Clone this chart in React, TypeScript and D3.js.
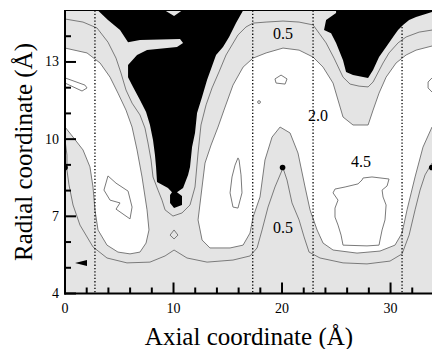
import React from "react";
import * as d3 from "d3";

// axis ticks (Å)
const xMajor = [0, 10, 20, 30];
const xMinor = [2, 4, 6, 8, 12, 14, 16, 18, 22, 24, 26, 28, 32];
const yMajor = [4, 7, 10, 13];
const yMinor = [5, 6, 8, 9, 11, 12, 14];

// dotted vertical guides
const guides = [2.76, 17.3, 22.86, 31.06];

// excluded volume (black)
const blackA = [
  [3.04, 15.0], [16.41, 15.0], [15.76, 14.51], [15.12, 13.97], [14.56, 13.58], [13.92, 13.27],
  [13.09, 12.3], [12.63, 11.64], [12.17, 11.02], [11.98, 10.24], [11.71, 9.69], [11.52, 8.92],
  [11.34, 8.61], [10.88, 8.1], [10.32, 7.94], [10.78, 7.79], [10.78, 7.44], [10.05, 7.32],
  [9.68, 7.52], [9.68, 7.83], [9.86, 7.94], [9.49, 8.1], [8.48, 8.33], [8.39, 8.92],
  [8.29, 9.38], [8.11, 9.97], [7.83, 10.55], [7.47, 11.05], [6.91, 11.52], [6.27, 12.03],
  [5.81, 12.41], [5.81, 12.88], [6.64, 13.27], [7.56, 13.46], [10.32, 13.58], [10.88, 13.74],
  [10.6, 13.89], [6.91, 13.85], [5.81, 13.77], [5.07, 14.24], [3.96, 14.63],
];
const notchA = [[9.22, 15.0], [10.78, 15.0], [10.05, 14.79]];
const blackB = [
  [24.98, 15.0], [33.82, 15.0], [33.82, 14.94], [32.35, 14.75], [31.71, 14.63], [31.15, 14.44],
  [30.69, 14.24], [30.23, 13.97], [29.59, 13.58], [28.94, 13.19], [28.39, 12.69], [27.93, 12.38],
  [26.54, 12.49], [25.9, 12.61], [25.62, 13.07], [24.98, 13.74], [24.52, 14.12], [23.87, 14.24],
  [24.06, 14.63], [24.98, 14.9],
];

// 2.0 contour (white inside)
const whiteLeft = [
  [0, 13.54], [2.03, 13.35], [3.23, 12.96], [4.15, 12.41], [4.88, 11.79], [5.62, 11.13],
  [6.18, 10.47], [6.64, 9.58], [7.1, 8.53], [7.56, 7.25], [7.74, 6.47], [7.47, 5.96],
  [6.91, 5.61], [5.99, 5.54], [4.88, 5.61], [3.87, 5.88], [3.04, 6.47], [2.76, 7.25],
  [2.58, 8.14], [2.3, 8.92], [1.66, 9.58], [0.74, 10.08], [0, 10.47],
];
const whiteMain = [
  [33.82, 10.47], [32.99, 9.69], [32.26, 8.53], [31.52, 7.25], [31.06, 6.35], [30.41, 5.88],
  [29.03, 5.65], [26.91, 5.57], [24.7, 5.69], [23.78, 5.96], [23.23, 6.47], [22.58, 7.25],
  [22.12, 8.14], [21.47, 9.46], [20.74, 10.24], [19.82, 10.47], [19.08, 10.08], [18.43, 9.19],
  [17.97, 7.75], [17.33, 6.97], [17.05, 6.35], [16.41, 5.88], [15.21, 5.77], [13.36, 5.77],
  [12.63, 6.08], [12.26, 6.86], [12.63, 8.14], [12.9, 9.07], [13.46, 9.77], [14.1, 10.47],
  [14.65, 11.13], [15.48, 12.1], [16.41, 12.8], [17.33, 13.15], [18.53, 13.35], [20.09, 13.54],
  [21.57, 13.46], [22.86, 13.19], [23.78, 12.8], [24.7, 12.18], [25.16, 11.52], [25.62, 10.86],
  [26.54, 10.55], [27.93, 10.55], [28.39, 11.13], [28.94, 11.79], [29.59, 12.41], [30.51, 12.96],
  [31.43, 13.27], [32.35, 13.46], [33.82, 13.62],
];

// 0.5 contours
const upperHalf = [
  [0, 14.67], [1.66, 14.55], [2.95, 14.32], [3.96, 13.77], [4.7, 13.15], [5.16, 12.57],
  [5.62, 11.91], [6.18, 11.4], [6.91, 10.94], [7.37, 10.43], [7.65, 9.85], [7.93, 9.19],
  [8.11, 8.53], [8.57, 8.02], [8.94, 7.63], [9.22, 7.25], [9.95, 7.01], [10.78, 7.13],
  [11.52, 7.44], [11.98, 8.14], [12.26, 9.46], [12.53, 10.55], [13.0, 11.33], [13.55, 11.99],
  [14.19, 12.61], [14.84, 13.27], [15.39, 13.66], [15.94, 14.05], [16.68, 14.36], [17.33, 14.51],
  [18.53, 14.55], [20.09, 14.59], [21.57, 14.55], [22.86, 14.44], [23.41, 14.12], [24.06, 13.74],
  [24.79, 13.15], [25.62, 12.41], [26.27, 12.14], [27.1, 12.06], [27.93, 12.03], [28.39, 12.22],
  [29.31, 12.96], [29.86, 13.35], [30.69, 13.74], [31.43, 13.97], [32.63, 14.16], [33.82, 14.24],
];
const lowerHalf = [
  [0, 9.97], [0.18, 9.38], [0.18, 8.8], [0.37, 8.22], [0.74, 7.44], [1.38, 6.66], [2.58, 5.81],
  [3.87, 5.38], [5.71, 5.19], [7.83, 5.22], [9.22, 5.46], [10.05, 5.69], [11.24, 5.38],
  [13.09, 5.22], [15.48, 5.3], [17.05, 5.46], [17.7, 5.77], [18.16, 6.47], [18.71, 7.36],
  [19.35, 8.14], [20.09, 8.88], [20.46, 8.41], [20.92, 7.52], [21.57, 6.86], [22.03, 6.2],
  [22.49, 5.61], [23.5, 5.38], [25.62, 5.19], [27.83, 5.15], [29.95, 5.26], [31.06, 5.54],
  [31.71, 6.27], [32.26, 7.25], [32.72, 8.02], [33.18, 8.61], [33.82, 9.07],
];

// 4.5 contours
const islands = [
  [[3.96, 8.57], [3.59, 8.02], [4.15, 7.63], [5.07, 7.52], [4.7, 7.28], [5.99, 6.9], [6.18, 7.36], [5.81, 7.98], [4.7, 8.29]],
  [[10.05, 6.47], [10.41, 6.27], [10.05, 6.12], [9.68, 6.27]],
  [[19.91, 12.49], [20.46, 12.34], [20.28, 12.14], [19.45, 12.18], [19.35, 12.34]],
  [[15.94, 9.27], [15.67, 8.99], [15.39, 8.53], [15.21, 7.91], [15.48, 7.36], [15.94, 7.32], [16.31, 7.91], [16.22, 8.61], [16.04, 9.19]],
  [[27.47, 8.49], [28.29, 8.53], [29.86, 8.45], [29.68, 8.18], [29.22, 8.02], [29.31, 7.75], [29.59, 7.44], [29.49, 6.86],
   [29.22, 6.47], [29.03, 6.08], [28.94, 5.88], [27.83, 5.85], [25.62, 5.88], [25.44, 6.27], [25.16, 6.66], [24.88, 6.97],
   [24.88, 7.32], [25.16, 7.63], [24.7, 7.91], [24.88, 8.06], [25.81, 8.14], [27.0, 8.26], [27.37, 8.41]],
];
const edgeIslands = [
  [[0, 12.38], [1.84, 12.1], [2.03, 11.99], [1.57, 11.87], [0, 12.18]],
  [[33.82, 12.38], [33.46, 12.22], [33.46, 11.99], [33.82, 11.83]],
];

const dots = [[0, 8.9], [20.05, 8.9], [33.8, 8.9]];
const ring = [17.88, 11.44];
const arrow = [[0.92, 5.19], [2.03, 5.3], [2.03, 5.07]];

const contourLabels = [
  { text: "0.5", x: 20.09, y: 14.12 },
  { text: "2.0", x: 23.32, y: 10.9 },
  { text: "4.5", x: 27.28, y: 9.15 },
  { text: "0.5", x: 20.09, y: 6.55 },
];

const W = 432, H = 349;
const left = 65, right = 432, top = 10.5, bottom = 293.5;
const font = '"Liberation Serif", "Times New Roman", "DejaVu Serif", serif';

export default function App() {
  const x = d3.scaleLinear().domain([0, 33.82]).range([left, right]);
  const y = d3.scaleLinear().domain([4, 15]).range([bottom, top]);
  const line = d3.line<number[]>().x(d => x(d[0])).y(d => y(d[1]));
  const poly = (p: number[][]) => line(p) + "Z";

  const lineColor = "#7a7a7a";
  const ts = { fontFamily: font };

  return (
    <svg width={W} height={H} style={{ position: "absolute", left: 0, top: 0 }}>
      <defs>
        <clipPath id="plot">
          <rect x={left} y={top} width={right - left} height={bottom - top} />
        </clipPath>
      </defs>
      <g clipPath="url(#plot)">
        <rect x={left} y={top} width={right - left} height={bottom - top} fill="#e4e4e4" />
        <path d={poly(whiteLeft)} fill="#fff" />
        <path d={poly(whiteMain)} fill="#fff" />
        <path d={poly(blackA)} fill="#000" />
        <path d={poly(blackB)} fill="#000" />
        <path d={poly(notchA)} fill="#e4e4e4" />
        <g fill="none" stroke={lineColor} strokeWidth={1}>
          <path d={line(whiteLeft)!} />
          <path d={line(whiteMain)!} />
          <path d={line(upperHalf)!} />
          <path d={line(lowerHalf)!} />
          {islands.map((p, i) => <path key={i} d={poly(p)} />)}
          {edgeIslands.map((p, i) => <path key={i} d={line(p)!} />)}
        </g>
        {guides.map(g => (
          <line key={g} x1={x(g)} x2={x(g)} y1={top} y2={bottom} stroke="#000" strokeWidth={1.3} strokeDasharray="1.3 2" />
        ))}
        {contourLabels.map((l, i) => (
          <text key={i} x={x(l.x)} y={y(l.y)} fontSize={16} textAnchor="middle" dominantBaseline="central" style={ts}>{l.text}</text>
        ))}
        {dots.map((d, i) => <circle key={i} cx={x(d[0])} cy={y(d[1])} r={2.8} fill="#000" />)}
        <circle cx={x(ring[0])} cy={y(ring[1])} r={1.4} fill="#fff" stroke="#555" strokeWidth={0.8} />
        <path d={poly(arrow)} fill="#000" />
      </g>

      {/* frame */}
      <line x1={left} x2={right} y1={top} y2={top} stroke="#000" strokeWidth={1} />
      <line x1={left} x2={left} y1={top - 0.5} y2={bottom + 1} stroke="#000" strokeWidth={2} />
      <line x1={left - 1} x2={right} y1={bottom} y2={bottom} stroke="#000" strokeWidth={2} />

      {/* ticks */}
      <g stroke="#000" strokeWidth={2}>
        {xMajor.map(t => <line key={"xM" + t} x1={x(t)} x2={x(t)} y1={bottom} y2={bottom - 11} />)}
        {xMinor.map(t => <line key={"xm" + t} x1={x(t)} x2={x(t)} y1={bottom} y2={bottom - 6} />)}
        {yMajor.map(t => <line key={"yM" + t} x1={left} x2={left + 11} y1={y(t)} y2={y(t)} />)}
        {yMinor.map(t => <line key={"ym" + t} x1={left} x2={left + 6} y1={y(t)} y2={y(t)} />)}
      </g>
      {xMajor.map(t => <text key={t} x={x(t)} y={313} fontSize={14} textAnchor="middle" style={ts}>{t}</text>)}
      {yMajor.map(t => <text key={t} x={left - 6} y={y(t)} fontSize={14} textAnchor="end" dominantBaseline="central" style={ts}>{t}</text>)}
      <text x={249} y={345} fontSize={25} textAnchor="middle" style={ts}>Axial coordinate (Å)</text>
      <text transform="translate(32,152) rotate(-90)" fontSize={25} textAnchor="middle" style={ts}>Radial coordinate (Å)</text>
    </svg>
  );
}
